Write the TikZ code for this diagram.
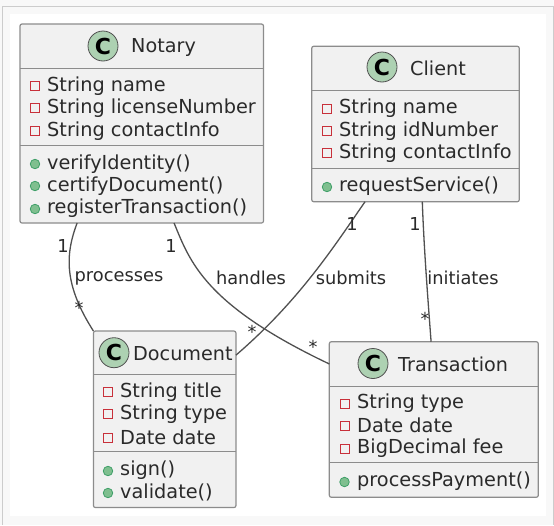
\documentclass[tikz,border=0pt]{standalone}
\usepackage{fontspec}
\setmainfont{DejaVu Sans}
\usetikzlibrary{positioning}
\definecolor{boxfill}{HTML}{F1F1F1}
\definecolor{boxline}{HTML}{8C8C8C}
\definecolor{inktext}{HTML}{2A2A2A}
\definecolor{linkline}{HTML}{505050}
\definecolor{spotfill}{HTML}{ADD1B2}
\definecolor{pagegrey}{HTML}{F8F8F8}
\definecolor{privline}{HTML}{C8303A}
\definecolor{pubfill}{HTML}{7FBF8F}
\definecolor{publine}{HTML}{3F9F68}

\begin{document}
\begin{tikzpicture}[
  x=1pt, y=-1pt,
  umlbox/.style={rectangle, draw=boxline, fill=boxfill, line width=1.2pt, rounded corners=2pt, inner sep=0pt, outer sep=0pt},
  spot/.style={circle, draw=linkline, fill=spotfill, line width=0.8pt, minimum size=30pt, inner sep=0pt, font=\fontsize{22}{22}\selectfont\bfseries, text=black},
  title/.style={anchor=west, inner sep=0pt, yshift=-1pt, font=\fontsize{19.2}{19.2}\selectfont, text=inktext},
  member/.style={anchor=west, inner sep=0pt, yshift=-1.5pt, font=\fontsize{19.3}{19.3}\selectfont, text=inktext},
  priv/.style={rectangle, draw=privline, fill=boxfill, line width=1pt, minimum size=9pt, inner sep=0pt},
  pub/.style={circle, draw=publine, fill=pubfill, line width=0.8pt, minimum size=9.5pt, inner sep=0pt},
  link/.style={draw=linkline, line width=1.3pt},
  tag/.style={inner sep=0pt, font=\fontsize{17.8}{17.8}\selectfont, text=inktext},
  sepline/.style={draw=boxline, line width=1.1pt}
]
  \useasboundingbox (0,0) rectangle (554,525);
  \fill[pagegrey] (0,0) rectangle (554,525);
  \draw[black!20, line width=1pt] (2.7,525) -- (2.7,6) -- (553.5,6) -- (553.5,525);
  \fill[white] (10,14) rectangle (546,516);

  % Classes
  \node[umlbox, minimum width=243.5pt, minimum height=199pt] (notary) at (141.75,123.5) {};
  \node[umlbox, minimum width=207.5pt, minimum height=155.5pt] (client) at (415.5,124) {};
  \node[umlbox, minimum width=142.5pt, minimum height=176.5pt] (document) at (164.7,419.3) {};
  \node[umlbox, minimum width=209pt, minimum height=155.5pt] (transaction) at (433.8,419.5) {};

  % Compartment lines
  \draw[sepline] (20,68.5) -- (263.5,68.5);
  \draw[sepline] (20,145.5) -- (263.5,145.5);
  \draw[sepline] (311.7,90.5) -- (519.2,90.5);
  \draw[sepline] (311.7,168.5) -- (519.2,168.5);
  \draw[sepline] (93.4,374.5) -- (236,374.5);
  \draw[sepline] (93.4,451.5) -- (236,451.5);
  \draw[sepline] (329.3,386.5) -- (538.3,386.5);
  \draw[sepline] (329.3,462.5) -- (538.3,462.5);

  % Notary
  \node[spot] (notarySpot) at (103,46) {C};
  \node[title] (notaryName) at (131,46) {Notary};
  \node[priv] (na) at (35,86) {};
  \node[member] (nat) at (47,85) {String name};
  \node[priv] (nb) at (35,108) {};
  \node[member] (nbt) at (47,107) {String licenseNumber};
  \node[priv] (nc) at (35,131) {};
  \node[member] (nct) at (47,130) {String contactInfo};
  \node[pub] (nd) at (35,164) {};
  \node[member] (ndt) at (47,163) {verifyIdentity()};
  \node[pub] (ne) at (35,186) {};
  \node[member] (net) at (47,185) {certifyDocument()};
  \node[pub] (nf) at (35,209) {};
  \node[member] (nft) at (47,207) {registerTransaction()};

  % Client
  \node[spot] (clientSpot) at (382,67) {C};
  \node[title] (clientName) at (410,67) {Client};
  \node[priv] (ca) at (327,109) {};
  \node[member] (cat) at (339,107) {String name};
  \node[priv] (cb) at (327,131) {};
  \node[member] (cbt) at (339,130) {String idNumber};
  \node[priv] (cc) at (327,153) {};
  \node[member] (cct) at (339,152) {String contactInfo};
  \node[pub] (cd) at (327,187) {};
  \node[member] (cdt) at (339,185) {requestService()};

  % Document
  \node[spot] (documentSpot) at (114,352.7) {C};
  \node[title] (documentName) at (133,352.7) {Document};
  \node[priv] (da) at (108,392) {};
  \node[member] (dat) at (120,391) {String title};
  \node[priv] (db) at (108,414) {};
  \node[member] (dbt) at (120,413) {String type};
  \node[priv] (dc) at (108,438) {};
  \node[member] (dct) at (120,436) {Date date};
  \node[pub] (dd) at (108,471) {};
  \node[member] (ddt) at (120,469) {sign()};
  \node[pub] (de) at (108,493) {};
  \node[member] (det) at (120,491) {validate()};

  % Transaction
  \node[spot] (transactionSpot) at (373,363.5) {C};
  \node[title] (transactionName) at (398,363.5) {Transaction};
  \node[priv] (ta) at (344.5,404) {};
  \node[member] (tat) at (357,402) {String type};
  \node[priv] (tb) at (344.5,426) {};
  \node[member] (tbt) at (357,424) {Date date};
  \node[priv] (tc) at (344.5,449) {};
  \node[member] (tct) at (357,447) {BigDecimal fee};
  \node[pub] (td) at (344.5,482) {};
  \node[member] (tdt) at (357,480) {processPayment()};

  % Associations
  \draw[link] (notary.-123.4) .. controls (65,255) and (64,285) .. (document.north west);
  \draw[link] (notary.-72) .. controls (190,262) and (205,305) .. (transaction.152);
  \draw[link] (client.-123.4) .. controls (335,245) and (300,300) .. (document.42.9);
  \draw[link] (client.-85.7) .. controls (424,250) and (428,300) .. (transaction.92.8);

  % Association labels
  \node[tag] (processes) at (119,278) {processes};
  \node[tag] (handles) at (251,278) {handles};
  \node[tag] (submits) at (351,278) {submits};
  \node[tag] (initiates) at (463,278) {initiates};

  % Multiplicities
  \node[tag] (m1) at (63,246) {1};
  \node[tag] (m2) at (171,246) {1};
  \node[tag] (m3) at (352,224) {1};
  \node[tag] (m4) at (415,224) {1};
  \node[tag] (m5) at (79,308) {*};
  \node[tag] (m6) at (252,332) {*};
  \node[tag] (m7) at (313,347) {*};
  \node[tag] (m8) at (425,319) {*};
\end{tikzpicture}
\end{document}
